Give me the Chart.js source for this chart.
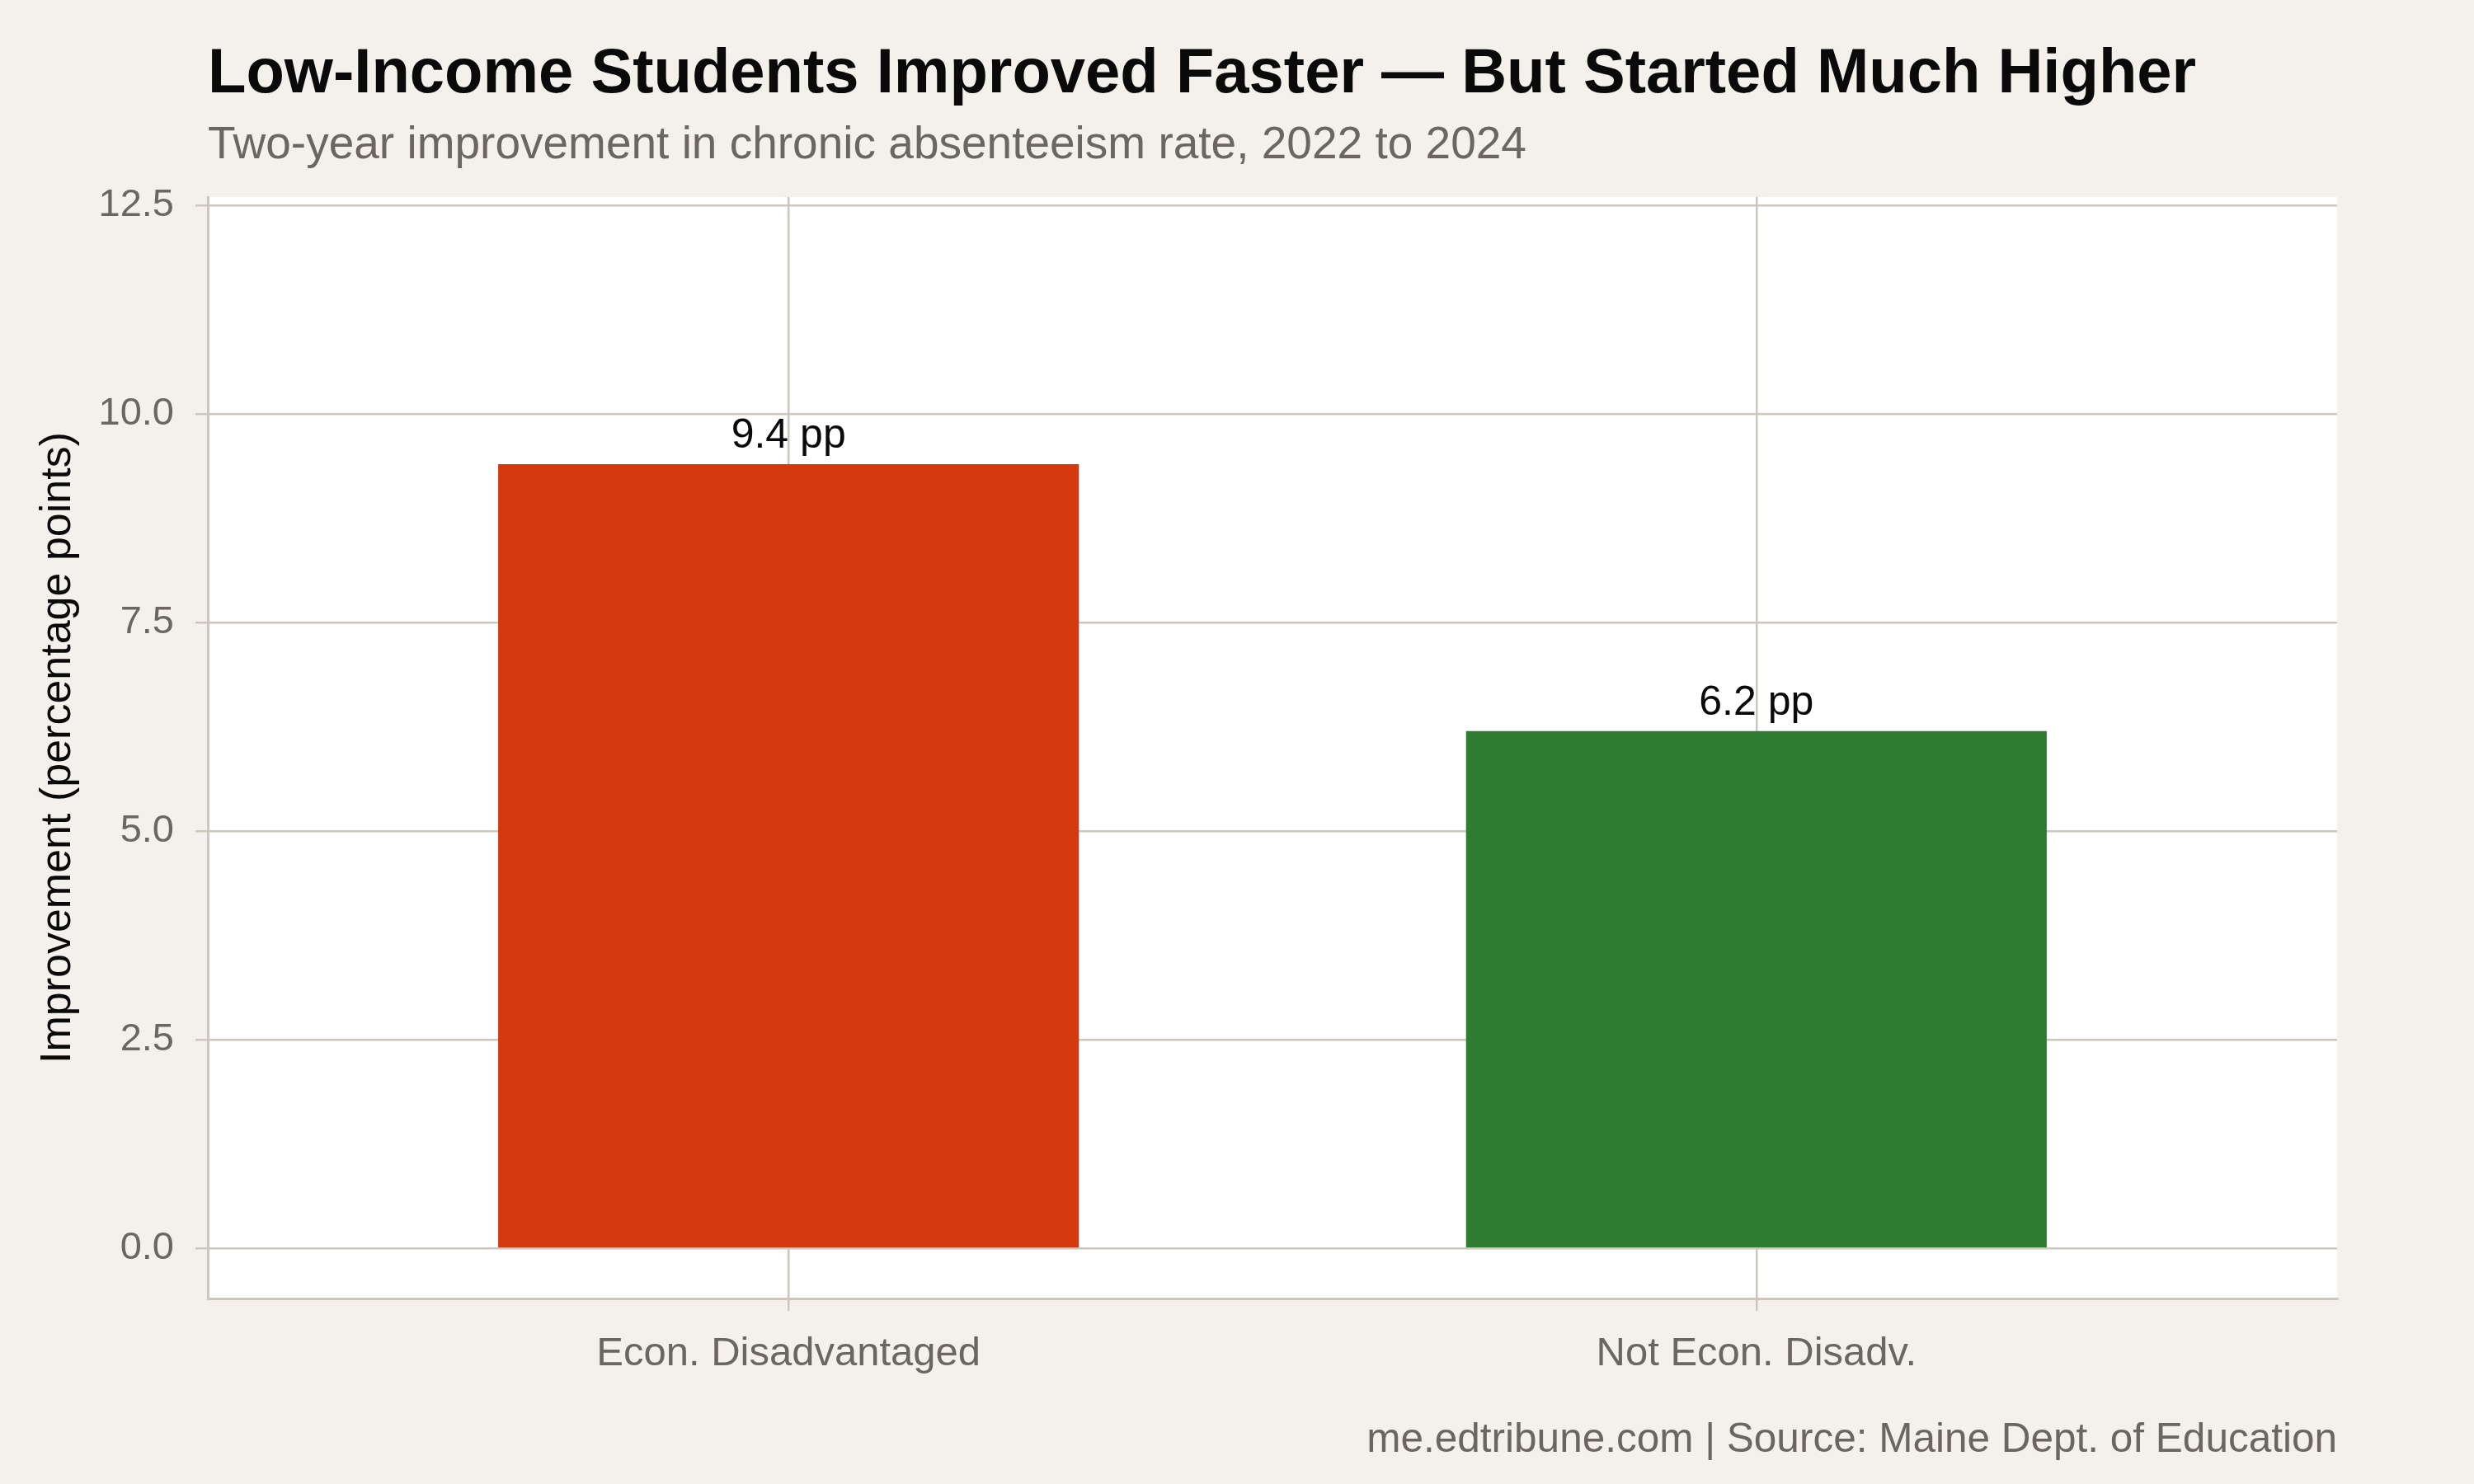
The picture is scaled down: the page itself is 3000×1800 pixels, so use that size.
<!DOCTYPE html>
<html>
<head>
<meta charset="utf-8">
<title>Low-Income Students Improved Faster</title>
<script src="https://cdn.jsdelivr.net/npm/chart.js@4/dist/chart.umd.min.js"></script>
<style>
  html, body { margin: 0; padding: 0; background: #f4f1ec; }
  canvas { display: block; }
</style>
</head>
<body>
<canvas id="chart" width="3000" height="1800"></canvas>
<script>
// 数据
const categories = ['Econ. Disadvantaged', 'Not Econ. Disadv.'];
const improvement = [9.4, 6.2];
const barColors = ['#d4380d', '#2e7d32'];
const yTicks = [0, 2.5, 5, 7.5, 10, 12.5];

// 文本
const titleText = 'Low-Income Students Improved Faster \u2014 But Started Much Higher';
const subtitleText = 'Two-year improvement in chronic absenteeism rate, 2022 to 2024';
const captionText = 'me.edtribune.com | Source: Maine Dept. of Education';
const yAxisTitle = 'Improvement (percentage points)';

const FONT = '"Liberation Sans", Arial, Helvetica, sans-serif';
const BG = '#f4f1ec';
const GRID = '#ccc6bc';
const GREY_TEXT = '#6b6661';

// 背景与面板
const panelPlugin = {
  id: 'panel',
  beforeDraw(chart) {
    const { ctx, chartArea: a } = chart;
    ctx.save();
    ctx.fillStyle = BG;
    ctx.fillRect(0, 0, chart.width, chart.height);
    ctx.fillStyle = '#ffffff';
    ctx.fillRect(a.left, a.top, a.right - a.left, a.bottom - a.top);
    ctx.restore();
  }
};

// 标题、副标题、来源
const headerPlugin = {
  id: 'header',
  afterDraw(chart) {
    const { ctx, chartArea: a } = chart;
    ctx.save();
    ctx.textBaseline = 'alphabetic';
    ctx.textAlign = 'left';
    ctx.fillStyle = '#0a0a0a';
    ctx.font = `bold 76px ${FONT}`;
    ctx.fillText(titleText, a.left, 112);
    ctx.fillStyle = GREY_TEXT;
    ctx.font = `55px ${FONT}`;
    ctx.fillText(subtitleText, a.left, 192);
    ctx.textAlign = 'right';
    ctx.font = `49.5px ${FONT}`;
    ctx.fillText(captionText, a.right, 1761);
    ctx.restore();
  }
};

// 柱顶数值标签
const valueLabelPlugin = {
  id: 'valueLabels',
  afterDatasetsDraw(chart) {
    const { ctx } = chart;
    const meta = chart.getDatasetMeta(0);
    ctx.save();
    ctx.fillStyle = '#0a0a0a';
    ctx.font = `50px ${FONT}`;
    ctx.textAlign = 'center';
    ctx.textBaseline = 'alphabetic';
    meta.data.forEach((bar, i) => {
      ctx.fillText(`${improvement[i].toFixed(1)} pp`, bar.x, bar.y - 20);
    });
    ctx.restore();
  }
};

const chart = new Chart(document.getElementById('chart'), {
  type: 'bar',
  data: {
    datasets: [{
      data: categories.map((c, i) => ({ x: i + 1, y: improvement[i] })),
      backgroundColor: barColors,
      borderWidth: 0,
      categoryPercentage: 1,
      barPercentage: 0.6
    }]
  },
  options: {
    responsive: false,
    devicePixelRatio: 1,
    animation: false,
    layout: {
      padding: { top: 239, right: 166, bottom: 0, left: 0 }
    },
    plugins: {
      legend: { display: false },
      tooltip: { enabled: false }
    },
    scales: {
      x: {
        type: 'linear',
        min: 0.4,
        max: 2.6,
        offset: false,
        afterBuildTicks: (scale) => {
          scale.ticks = categories.map((c, i) => ({ value: i + 1 }));
        },
        afterFit: (scale) => { scale.height = 225; },
        grid: {
          offset: false,
          color: GRID,
          lineWidth: 2.5,
          drawTicks: true,
          tickLength: 15,
          tickColor: GRID,
          tickWidth: 2.5
        },
        border: { display: true, color: GRID, width: 3 },
        ticks: {
          autoSkip: false,
          maxRotation: 0,
          padding: 23,
          color: GREY_TEXT,
          font: { family: FONT, size: 49 },
          callback: (value) => categories[value - 1]
        }
      },
      y: {
        type: 'linear',
        min: -0.6,
        max: 12.6,
        afterBuildTicks: (scale) => {
          scale.ticks = yTicks.map(v => ({ value: v }));
        },
        afterFit: (scale) => { scale.width = 252; },
        grid: {
          color: GRID,
          lineWidth: 2.5,
          drawTicks: true,
          tickLength: 15,
          tickColor: GRID,
          tickWidth: 2.5
        },
        border: { display: true, color: GRID, width: 3 },
        ticks: {
          padding: 26,
          color: GREY_TEXT,
          font: { family: FONT, size: 47 },
          callback: (value) => value.toFixed(1)
        },
        title: {
          display: true,
          text: yAxisTitle,
          color: '#0a0a0a',
          font: { family: FONT, size: 52, lineHeight: 1 },
          padding: { top: 45, bottom: 0 }
        }
      }
    }
  },
  plugins: [panelPlugin, headerPlugin, valueLabelPlugin]
});
</script>
</body>
</html>
